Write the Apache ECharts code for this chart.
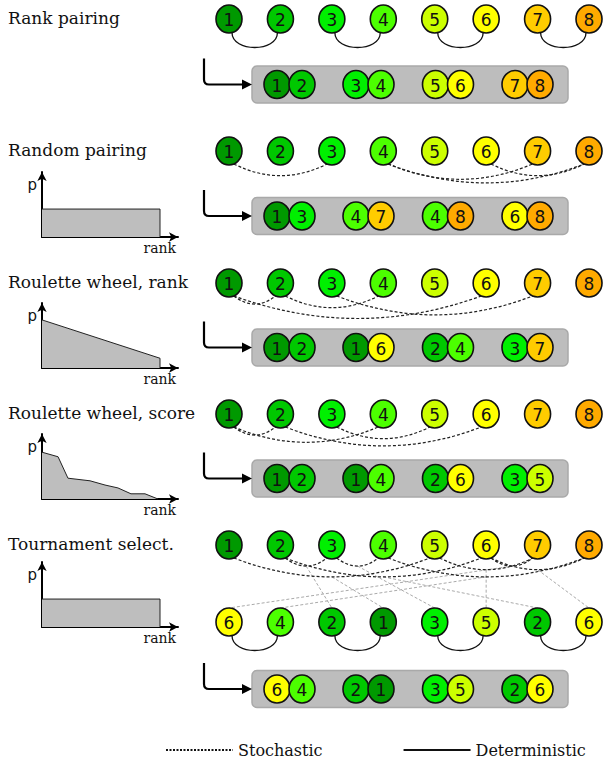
<!DOCTYPE html>
<html><head><meta charset="utf-8">
<script src="https://cdn.jsdelivr.net/npm/echarts@6/dist/echarts.min.js"></script>
<style>html,body{margin:0;padding:0;background:#fff}#c{width:607px;height:764px}</style>
</head><body><div id="c"></div>
<script>
// ---------------- data ----------------
const ranks = [1, 2, 3, 4, 5, 6, 7, 8];
const methods = ['Rank pairing', 'Random pairing', 'Roulette wheel, rank', 'Roulette wheel, score', 'Tournament select.'];
const rankPairs = [[1, 2], [3, 4], [5, 6], [7, 8]];
const randomPairs = [[1, 3], [4, 7], [4, 8], [6, 8]];
const rouletteRankPairs = [[1, 2], [1, 6], [2, 4], [3, 7]];
const rouletteScorePairs = [[1, 2], [1, 4], [2, 6], [3, 5]];
const tournaments = [[6, 7], [4, 8], [2, 3], [1, 5], [3, 4], [5, 7], [2, 6], [6, 8]];
const tournamentWinners = [6, 4, 2, 1, 3, 5, 2, 6];
const tournamentPairs = [[6, 4], [2, 1], [3, 5], [2, 6]];
// selection-probability sketches: [rank position (0..1), p]
const pRandom = [[0, 0.43], [1, 0.43], [1, 0]];
const pRouletteRank = [[0, 0.74], [1, 0.15], [1, 0]];
const pRouletteScore = [[0, 0.72], [0.136, 0.65], [0.22, 0.32], [0.407, 0.28], [0.534, 0.215], [0.644, 0.17], [0.754, 0.08], [0.873, 0.08], [0.983, 0]];
const pTournament = [[0, 0.43], [1, 0.43], [1, 0]];
const legendNames = ['Stochastic', 'Deterministic'];

// ---------------- layout & style ----------------
const W = 607, H = 764;
const X0 = 229, DX = 51.43;
const rowY = [19, 151, 283, 414, 545];
const row2Y = 622;
const boxY = [84.5, 216, 347.5, 478.5, 689];
const pairX = [289.5, 368.5, 448, 527.5], pairHalf = 12.5;
const boxX0 = 252, boxX1 = 568, boxH = 37;
const RX = 13, RY = 14;
const miniTop = [172, 303, 434, 562];
const nodeColors = {1: '#009900', 2: '#00c800', 3: '#00f000', 4: '#4cff00', 5: '#ccff00', 6: '#ffff00', 7: '#ffcc00', 8: '#ffaa00'};
const rankX = r => X0 + (r - 1) * DX;
const serif = '"DejaVu Serif", serif';
const sans = '"DejaVu Sans", sans-serif';

// ---------------- derived series data ----------------
const boxPairs = [rankPairs, randomPairs, rouletteRankPairs, rouletteScorePairs, tournamentPairs];
const nodeData = [];
rowY.forEach(y => ranks.forEach(r => nodeData.push([rankX(r), y, r])));
tournamentWinners.forEach((r, i) => nodeData.push([rankX(i + 1), row2Y, r]));
boxPairs.forEach((pairs, s) => pairs.forEach(([a, b], k) => {
  nodeData.push([pairX[k] - pairHalf, boxY[s], a]);
  nodeData.push([pairX[k] + pairHalf, boxY[s], b]);
}));

const stoData = [];
[[randomPairs, 1], [rouletteRankPairs, 2], [rouletteScorePairs, 3], [tournaments, 4]].forEach(([pairs, s]) =>
  pairs.forEach(([a, b]) => stoData.push([rankX(a), rankX(b), rowY[s]])));
const selData = tournaments.map((t, i) => [rankX(t[0]), rankX(t[1]), rowY[4], rankX(i + 1), row2Y]);
const detData = rankPairs.map(([a, b]) => [rankX(a), rankX(b), rowY[0]])
  .concat(tournamentPairs.map((p, k) => [rankX(2 * k + 1), rankX(2 * k + 2), row2Y]));

function arcGeom(p1, p2) {
  const dir = p2[0] > p1[0] ? 1 : -1;
  const a = 68 * Math.PI / 180;
  const s = [p1[0] + dir * RX * Math.cos(a), p1[1] + RY * Math.sin(a)];
  const e = [p2[0] - dir * RX * Math.cos(a), p2[1] + RY * Math.sin(a)];
  const span = Math.abs(p2[0] - p1[0]);
  const d = 4.5 + 0.07 * span;
  return {s, e, c: [(s[0] + e[0]) / 2, s[1] + 2 * d], mid: [(s[0] + e[0]) / 2, s[1] + d]};
}

const chart = echarts.init(document.getElementById('c'), null, {renderer: 'svg', width: W, height: H});

const miniSets = [pRandom, pRouletteRank, pRouletteScore, pTournament];
const grids = [{left: 0, top: 0, width: W, height: H}];
const xAxes = [{type: 'value', gridIndex: 0, min: 0, max: W, show: false}];
const yAxes = [{type: 'value', gridIndex: 0, min: 0, max: H, inverse: true, show: false}];
const miniSeries = [];
miniSets.forEach((set, i) => {
  grids.push({left: 42, top: miniTop[i], width: 136, height: 65});
  xAxes.push({
    type: 'value', gridIndex: i + 1, min: 0, max: 136 / 118,
    axisLine: {show: true, symbol: ['none', 'arrow'], symbolSize: [7, 9], lineStyle: {color: '#000', width: 2}},
    axisTick: {show: false}, axisLabel: {show: false}, splitLine: {show: false},
    name: 'rank', nameLocation: 'end', nameGap: 0,
    nameTextStyle: {align: 'right', verticalAlign: 'top', padding: [4, 2, 0, 0], fontFamily: serif, fontSize: 14, color: '#111'}
  });
  yAxes.push({
    type: 'value', gridIndex: i + 1, min: 0, max: 1,
    axisLine: {show: true, symbol: ['none', 'arrow'], symbolSize: [7, 9], lineStyle: {color: '#000', width: 2}},
    axisTick: {show: false}, axisLabel: {show: false}, splitLine: {show: false},
    name: 'p', nameLocation: 'end', nameGap: -5,
    nameTextStyle: {align: 'right', verticalAlign: 'top', padding: [0, 5, 0, 0], fontFamily: sans, fontSize: 15, color: '#111'}
  });
  miniSeries.push({
    type: 'line', xAxisIndex: i + 1, yAxisIndex: i + 1, data: set, symbol: 'none', silent: true,
    lineStyle: {color: '#222', width: 1}, areaStyle: {color: '#bebebe', opacity: 1}, z: 1
  });
});

const legendText = {fontFamily: serif, fontSize: 16, color: '#111'};
const option = {
  animation: false,
  backgroundColor: '#fff',
  title: methods.map((m, i) => ({
    text: m, left: 8, top: rowY[i] - 10, padding: 0,
    textStyle: {fontFamily: serif, fontSize: 17, fontWeight: 'normal', color: '#111'}
  })),
  legend: {
    data: legendNames.map(n => ({name: n, textStyle: legendText})),
    left: 165, top: 742, padding: 0, itemWidth: 67, itemHeight: 16, itemGap: 80,
    itemStyle: {opacity: 0, borderWidth: 0},
    textStyle: legendText, selectedMode: false
  },
  grid: grids, xAxis: xAxes, yAxis: yAxes,
  series: [
    {name: legendNames[0], type: 'line', data: [], symbol: 'none', lineStyle: {color: '#111', width: 1, type: [2, 1.5]}, itemStyle: {color: '#111'}},
    {name: legendNames[1], type: 'line', data: [], symbol: 'none', lineStyle: {color: '#111', width: 1.3, type: 'solid'}, itemStyle: {color: '#111'}},
    {
      type: 'custom', name: 'boxes', coordinateSystem: 'cartesian2d', silent: true, z: 1,
      data: boxY.map(y => [boxX0, boxX1, y]),
      renderItem(params, api) {
        const p0 = api.coord([api.value(0), api.value(2)]);
        const p1 = api.coord([api.value(1), api.value(2)]);
        return {type: 'rect', shape: {x: p0[0], y: p0[1] - boxH / 2, width: p1[0] - p0[0], height: boxH, r: 5},
          style: {fill: '#bdbdbd', stroke: '#a9a9a9', lineWidth: 1.5}};
      }
    },
    {
      type: 'custom', name: 'arrows', coordinateSystem: 'cartesian2d', silent: true, z: 2,
      data: boxY.map(y => [204, boxX0, y]),
      renderItem(params, api) {
        const p0 = api.coord([api.value(0), api.value(2)]);
        const p1 = api.coord([api.value(1), api.value(2)]);
        const x = p0[0], y = p0[1], tip = p1[0];
        return {type: 'group', children: [
          {type: 'path', shape: {pathData: `M${x} ${y - 26} L${x} ${y - 5} Q${x} ${y} ${x + 5} ${y} L${tip - 8} ${y}`},
            style: {fill: 'none', stroke: '#000', lineWidth: 2.2}},
          {type: 'polygon', shape: {points: [[tip - 10, y - 5], [tip, y], [tip - 10, y + 5]]}, style: {fill: '#000'}}
        ]};
      }
    },
    {
      type: 'custom', name: 'selection', coordinateSystem: 'cartesian2d', silent: true, z: 3,
      data: selData,
      renderItem(params, api) {
        const a = api.coord([api.value(0), api.value(2)]);
        const b = api.coord([api.value(1), api.value(2)]);
        const g = arcGeom(a, b);
        const t = api.coord([api.value(3), api.value(4)]);
        return {type: 'line', shape: {x1: g.mid[0], y1: g.mid[1], x2: t[0], y2: t[1] - RY},
          style: {stroke: '#aaaaaa', lineWidth: 1, lineDash: [3, 2]}};
      }
    },
    {
      type: 'custom', name: 'stochastic', coordinateSystem: 'cartesian2d', silent: true, z: 4,
      data: stoData,
      renderItem(params, api) {
        const a = api.coord([api.value(0), api.value(2)]);
        const b = api.coord([api.value(1), api.value(2)]);
        const g = arcGeom(a, b);
        return {type: 'bezierCurve', shape: {x1: g.s[0], y1: g.s[1], x2: g.e[0], y2: g.e[1], cpx1: g.c[0], cpy1: g.c[1]},
          style: {stroke: '#222', lineWidth: 1.2, lineDash: [3, 2], fill: 'none'}};
      }
    },
    {
      type: 'custom', name: 'deterministic', coordinateSystem: 'cartesian2d', silent: true, z: 4,
      data: detData,
      renderItem(params, api) {
        const a = api.coord([api.value(0), api.value(2)]);
        const b = api.coord([api.value(1), api.value(2)]);
        const y = a[1] + RY - 0.5;
        return {type: 'bezierCurve', shape: {x1: a[0] + 3, y1: y, x2: b[0] - 3, y2: y, cpx1: a[0] + 3, cpy1: y + 20, cpx2: b[0] - 3, cpy2: y + 20},
          style: {stroke: '#111', lineWidth: 1.3, fill: 'none'}};
      }
    },
    {
      type: 'custom', name: 'nodes', coordinateSystem: 'cartesian2d', silent: true, z: 5,
      data: nodeData,
      renderItem(params, api) {
        const p = api.coord([api.value(0), api.value(1)]);
        const r = api.value(2);
        return {type: 'group', children: [
          {type: 'ellipse', shape: {cx: p[0], cy: p[1], rx: RX, ry: RY}, style: {fill: nodeColors[r], stroke: '#111', lineWidth: 1.6}},
          {type: 'text', x: p[0], y: p[1] + 1, style: {text: String(r), align: 'center', verticalAlign: 'middle', font: '17px ' + sans, fill: '#111'}}
        ]};
      }
    }
  ].concat(miniSeries)
};
chart.setOption(option);
</script>
</body></html>
